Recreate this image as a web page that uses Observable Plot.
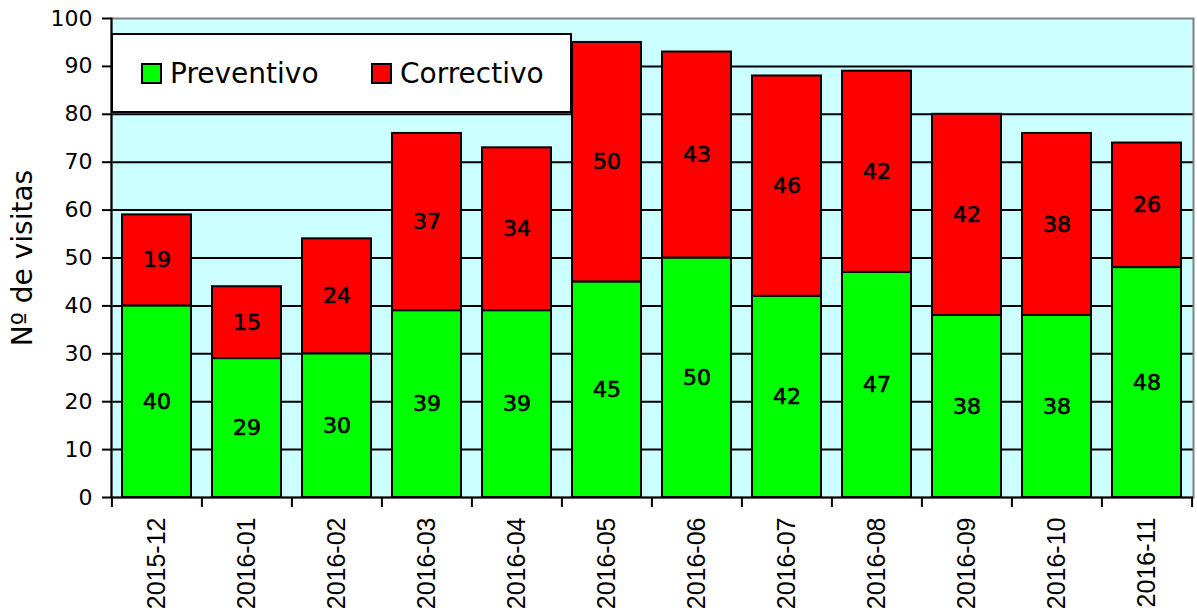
<!DOCTYPE html>
<html>
<head>
<meta charset="utf-8">
<script src="https://cdn.jsdelivr.net/npm/d3@7"></script>
<script src="https://cdn.jsdelivr.net/npm/@observablehq/plot@0.6"></script>
<style>
  html, body { margin: 0; padding: 0; background: white; }
  #wrap { position: relative; width: 1197px; height: 614px; }
  #legend {
    position: absolute; left: 111px; top: 33px; width: 461px; height: 80px;
    box-sizing: border-box; border: 2px solid black; background: white;
    font-family: "DejaVu Sans", sans-serif; font-size: 28px; color: black;
  }
  .item { position: absolute; top: 0; height: 76px; display: flex; align-items: center; }
  .sw { width: 21px; height: 21px; box-sizing: border-box; border: 2px solid black; margin-right: 8px; }
</style>
</head>
<body>
<div id="wrap">
  <div id="chart"></div>
  <div id="legend"></div>
</div>
<script>
const months = ["2015-12","2016-01","2016-02","2016-03","2016-04","2016-05","2016-06","2016-07","2016-08","2016-09","2016-10","2016-11"];
const preventivo = [40,29,30,39,39,45,50,42,47,38,38,48];
const correctivo = [19,15,24,37,34,50,43,46,42,42,38,26];
const series = ["Preventivo","Correctivo"];
const colors = ["#00FF00","#FF0000"];
const yTicks = [0,10,20,30,40,50,60,70,80,90,100];
const gridTicks = [10,20,30,40,50,60,70,80,90];
const yTitle = "Nº de visitas";

const data = [
  ...months.map((m, i) => ({month: m, type: series[0], value: preventivo[i]})),
  ...months.map((m, i) => ({month: m, type: series[1], value: correctivo[i]}))
];

const W = 1197, H = 614, mL = 111, mR = 4, mT = 18, mB = 117;
const half = (W - mL - mR) / months.length / 2;

const chart = Plot.plot({
  width: W, height: H,
  marginLeft: mL, marginRight: mR, marginTop: mT, marginBottom: mB,
  style: {fontFamily: "DejaVu Sans", background: "white", overflow: "visible", color: "black"},
  x: {domain: months, paddingInner: 0.228, paddingOuter: 0.115, axis: null},
  y: {domain: [0, 100], axis: null},
  color: {domain: series, range: colors},
  marks: [
    Plot.frame({fill: "#CCFFFF", stroke: null}),
    Plot.ruleY(gridTicks, {stroke: "black", strokeWidth: 2}),
    Plot.frame({stroke: "#808080", strokeWidth: 2}),
    Plot.barY(data, {x: "month", y: "value", fill: "type", stroke: "black", strokeWidth: 2}),
    Plot.ruleY([0], {stroke: "black", strokeWidth: 2}),
    Plot.frame({anchor: "left", stroke: "black", strokeWidth: 2}),
    Plot.axisY(yTicks, {tickSize: 9, tickPadding: 10, fontSize: 22, strokeWidth: 2, label: null}),
    Plot.axisX({tickSize: 0, tickRotate: -90, tickPadding: 20, fontSize: 25, fontFamily: "Liberation Sans", label: null}),
    Plot.ruleX(months, {x: d => d, y1: 0, y2: -2.1, dx: -half, stroke: "black", strokeWidth: 2}),
    Plot.ruleX(months.slice(-1), {x: d => d, y1: 0, y2: -2.1, dx: half, stroke: "black", strokeWidth: 2}),
    Plot.text(data, Plot.stackY({x: "month", y: "value", z: "type", text: d => String(d.value), fontSize: 22, fill: "black", stroke: "black", strokeWidth: 0.7})),
    Plot.text([yTitle], {frameAnchor: "left", textAnchor: "middle", dx: -88, rotate: -90, fontSize: 28, fill: "black", text: d => d})
  ]
});
document.getElementById("chart").appendChild(chart);

const legend = document.getElementById("legend");
const lefts = [28, 258];
series.forEach((s, i) => {
  const it = document.createElement("div");
  it.className = "item";
  it.style.left = lefts[i] + "px";
  const sw = document.createElement("div");
  sw.className = "sw";
  sw.style.background = colors[i];
  const t = document.createElement("span");
  t.textContent = s;
  it.appendChild(sw); it.appendChild(t);
  legend.appendChild(it);
});
</script>
</body>
</html>
